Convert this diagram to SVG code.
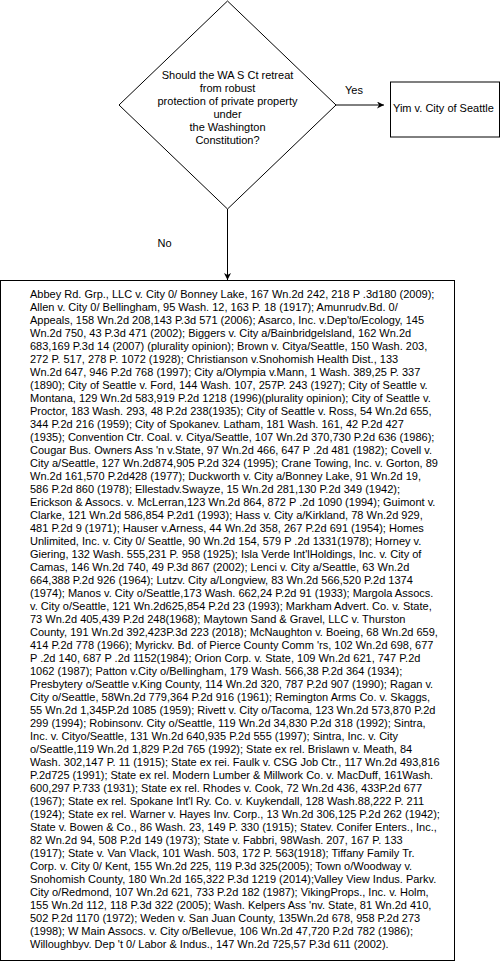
<svg xmlns="http://www.w3.org/2000/svg" width="500" height="963" viewBox="0 0 500 963">
<style>
.shape{fill:#ffffff;stroke:#000000;stroke-width:1}
.edge{fill:none;stroke:#000000;stroke-width:1}
.t{font-family:"Liberation Sans",Arial,sans-serif;font-size:11px;fill:#000000}
.c{text-anchor:middle}
</style>
<defs>
<marker id="arr" viewBox="0 0 10 10" refX="10" refY="5" markerWidth="7" markerHeight="7" markerUnits="userSpaceOnUse" orient="auto">
<path d="M0,0 L10,5 L0,10 L3,5 Z" fill="#000000"/>
</marker>
</defs>
<rect width="500" height="963" fill="#ffffff"/>
<g id="connectors">
<line class="edge" x1="336" y1="105" x2="384" y2="105" marker-end="url(#arr)"/>
<text class="t c" x="354" y="94">Yes</text>
<line class="edge" x1="227.5" y1="209" x2="227.5" y2="280" marker-end="url(#arr)"/>
<text class="t c" x="164.5" y="247">No</text>
</g>
<g id="decision">
<polygon class="shape" points="227.5,1 336,105 227.5,209 119,105"/>
<text class="t c" x="227.5" y="79">Should the WA S Ct retreat</text>
<text class="t c" x="227.5" y="92">from robust</text>
<text class="t c" x="227.5" y="105">protection of private property</text>
<text class="t c" x="227.5" y="118">under</text>
<text class="t c" x="227.5" y="131">the Washington</text>
<text class="t c" x="227.5" y="144">Constitution?</text>
</g>
<g id="yim">
<rect class="shape" x="390.5" y="82" width="109" height="55"/>
<text class="t" x="393" y="112">Yim v. City of Seattle</text>
</g>
<g id="cases">
<rect class="shape" x="0.5" y="280.5" width="454" height="680"/>
<text class="t" x="30" y="298">
<tspan x="30" y="298">Abbey Rd. Grp., LLC v. City 0/ Bonney Lake, 167 Wn.2d 242, 218 P .3d180 (2009);</tspan>
<tspan x="30" y="311">Allen v. City 0/ Bellingham, 95 Wash. 12, 163 P. 18 (1917); Amunrudv.Bd. 0/</tspan>
<tspan x="30" y="324">Appeals, 158 Wn.2d 208,143 P.3d 571 (2006); Asarco, Inc. v.Dep'to/Ecology, 145</tspan>
<tspan x="30" y="337">Wn.2d 750, 43 P.3d 471 (2002); Biggers v. City a/Bainbridgelsland, 162 Wn.2d</tspan>
<tspan x="30" y="350">683,169 P.3d 14 (2007) (plurality opinion); Brown v. Citya/Seattle, 150 Wash. 203,</tspan>
<tspan x="30" y="363">272 P. 517, 278 P. 1072 (1928); Christianson v.Snohomish Health Dist., 133</tspan>
<tspan x="30" y="376">Wn.2d 647, 946 P.2d 768 (1997); City a/Olympia v.Mann, 1 Wash. 389,25 P. 337</tspan>
<tspan x="30" y="389">(1890); City of Seattle v. Ford, 144 Wash. 107, 257P. 243 (1927); City of Seattle v.</tspan>
<tspan x="30" y="402">Montana, 129 Wn.2d 583,919 P.2d 1218 (1996)(plurality opinion); City of Seattle v.</tspan>
<tspan x="30" y="415">Proctor, 183 Wash. 293, 48 P.2d 238(1935); City of Seattle v. Ross, 54 Wn.2d 655,</tspan>
<tspan x="30" y="428">344 P.2d 216 (1959); City of Spokanev. Latham, 181 Wash. 161, 42 P.2d 427</tspan>
<tspan x="30" y="441">(1935); Convention Ctr. Coal. v. Citya/Seattle, 107 Wn.2d 370,730 P.2d 636 (1986);</tspan>
<tspan x="30" y="454">Cougar Bus. Owners Ass 'n v.State, 97 Wn.2d 466, 647 P .2d 481 (1982); Covell v.</tspan>
<tspan x="30" y="467">City a/Seattle, 127 Wn.2d874,905 P.2d 324 (1995); Crane Towing, Inc. v. Gorton, 89</tspan>
<tspan x="30" y="480">Wn.2d 161,570 P.2d428 (1977); Duckworth v. City a/Bonney Lake, 91 Wn.2d 19,</tspan>
<tspan x="30" y="493">586 P.2d 860 (1978); Ellestadv.Swayze, 15 Wn.2d 281,130 P.2d 349 (1942);</tspan>
<tspan x="30" y="506">Erickson &amp; Assocs. v. McLerran,123 Wn.2d 864, 872 P .2d 1090 (1994); Guimont v.</tspan>
<tspan x="30" y="519">Clarke, 121 Wn.2d 586,854 P.2d1 (1993); Hass v. City a/Kirkland, 78 Wn.2d 929,</tspan>
<tspan x="30" y="532">481 P.2d 9 (1971); Hauser v.Arness, 44 Wn.2d 358, 267 P.2d 691 (1954); Homes</tspan>
<tspan x="30" y="545">Unlimited, Inc. v. City 0/ Seattle, 90 Wn.2d 154, 579 P .2d 1331(1978); Horney v.</tspan>
<tspan x="30" y="558">Giering, 132 Wash. 555,231 P. 958 (1925); Isla Verde Int'lHoldings, Inc. v. City of</tspan>
<tspan x="30" y="571">Camas, 146 Wn.2d 740, 49 P.3d 867 (2002); Lenci v. City a/Seattle, 63 Wn.2d</tspan>
<tspan x="30" y="584">664,388 P.2d 926 (1964); Lutzv. City a/Longview, 83 Wn.2d 566,520 P.2d 1374</tspan>
<tspan x="30" y="597">(1974); Manos v. City o/Seattle,173 Wash. 662,24 P.2d 91 (1933); Margola Assocs.</tspan>
<tspan x="30" y="610">v. City o/Seattle, 121 Wn.2d625,854 P.2d 23 (1993); Markham Advert. Co. v. State,</tspan>
<tspan x="30" y="623">73 Wn.2d 405,439 P.2d 248(1968); Maytown Sand &amp; Gravel, LLC v. Thurston</tspan>
<tspan x="30" y="636">County, 191 Wn.2d 392,423P.3d 223 (2018); McNaughton v. Boeing, 68 Wn.2d 659,</tspan>
<tspan x="30" y="649">414 P.2d 778 (1966); Myrickv. Bd. of Pierce County Comm 'rs, 102 Wn.2d 698, 677</tspan>
<tspan x="30" y="662">P .2d 140, 687 P .2d 1152(1984); Orion Corp. v. State, 109 Wn.2d 621, 747 P.2d</tspan>
<tspan x="30" y="675">1062 (1987); Patton v.City o/Bellingham, 179 Wash. 566,38 P.2d 364 (1934);</tspan>
<tspan x="30" y="688">Presbytery o/Seattle v.King County, 114 Wn.2d 320, 787 P.2d 907 (1990); Ragan v.</tspan>
<tspan x="30" y="701">City o/Seattle, 58Wn.2d 779,364 P.2d 916 (1961); Remington Arms Co. v. Skaggs,</tspan>
<tspan x="30" y="714">55 Wn.2d 1,345P.2d 1085 (1959); Rivett v. City o/Tacoma, 123 Wn.2d 573,870 P.2d</tspan>
<tspan x="30" y="727">299 (1994); Robinsonv. City o/Seattle, 119 Wn.2d 34,830 P.2d 318 (1992); Sintra,</tspan>
<tspan x="30" y="740">Inc. v. Cityo/Seattle, 131 Wn.2d 640,935 P.2d 555 (1997); Sintra, Inc. v. City</tspan>
<tspan x="30" y="753">o/Seattle,119 Wn.2d 1,829 P.2d 765 (1992); State ex rel. Brislawn v. Meath, 84</tspan>
<tspan x="30" y="766">Wash. 302,147 P. 11 (1915); State ex rei. Faulk v. CSG Job Ctr., 117 Wn.2d 493,816</tspan>
<tspan x="30" y="779">P.2d725 (1991); State ex rel. Modern Lumber &amp; Millwork Co. v. MacDuff, 161Wash.</tspan>
<tspan x="30" y="792">600,297 P.733 (1931); State ex rel. Rhodes v. Cook, 72 Wn.2d 436, 433P.2d 677</tspan>
<tspan x="30" y="805">(1967); State ex rel. Spokane Int'l Ry. Co. v. Kuykendall, 128 Wash.88,222 P. 211</tspan>
<tspan x="30" y="818">(1924); State ex rel. Warner v. Hayes Inv. Corp., 13 Wn.2d 306,125 P.2d 262 (1942);</tspan>
<tspan x="30" y="831">State v. Bowen &amp; Co., 86 Wash. 23, 149 P. 330 (1915); Statev. Conifer Enters., Inc.,</tspan>
<tspan x="30" y="844">82 Wn.2d 94, 508 P.2d 149 (1973); State v. Fabbri, 98Wash. 207, 167 P. 133</tspan>
<tspan x="30" y="857">(1917); State v. Van Vlack, 101 Wash. 503, 172 P. 563(1918); Tiffany Family Tr.</tspan>
<tspan x="30" y="870">Corp. v. City 0/ Kent, 155 Wn.2d 225, 119 P.3d 325(2005); Town o/Woodway v.</tspan>
<tspan x="30" y="883">Snohomish County, 180 Wn.2d 165,322 P.3d 1219 (2014);Valley View Indus. Parkv.</tspan>
<tspan x="30" y="896">City o/Redmond, 107 Wn.2d 621, 733 P.2d 182 (1987); VikingProps., Inc. v. Holm,</tspan>
<tspan x="30" y="909">155 Wn.2d 112, 118 P.3d 322 (2005); Wash. Kelpers Ass 'nv. State, 81 Wn.2d 410,</tspan>
<tspan x="30" y="922">502 P.2d 1170 (1972); Weden v. San Juan County, 135Wn.2d 678, 958 P.2d 273</tspan>
<tspan x="30" y="935">(1998); W Main Assocs. v. City o/Bellevue, 106 Wn.2d 47,720 P.2d 782 (1986);</tspan>
<tspan x="30" y="948">Willoughbyv. Dep 't 0/ Labor &amp; Indus., 147 Wn.2d 725,57 P.3d 611 (2002).</tspan>
</text>
</g>
</svg>
